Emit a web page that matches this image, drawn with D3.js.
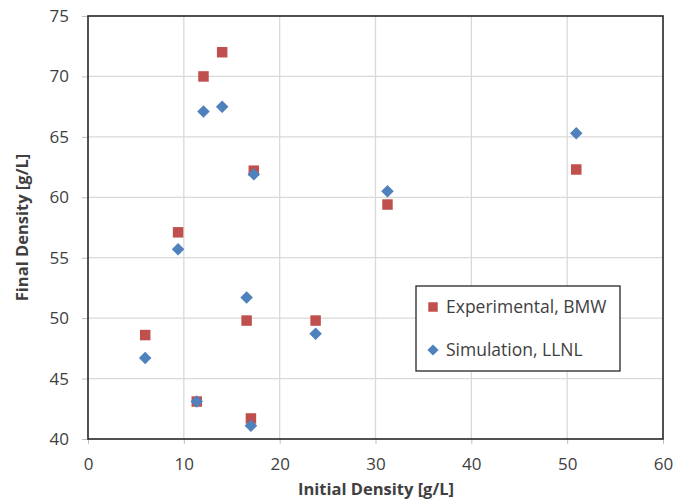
<!DOCTYPE html>
<html><head><meta charset="utf-8">
<script src="https://cdn.jsdelivr.net/npm/d3@7"></script>
<style>body{margin:0;background:#fff}svg{display:block}text{font-family:"Open Sans",sans-serif;fill:#404040}</style>
</head><body>
<svg id="c" width="674" height="502"></svg>
<script>
const expX = [14.0, 12.05, 17.3, 9.4, 16.55, 23.75, 5.97, 11.35, 17.0, 31.25, 50.95];
const expY = [72.0, 70.0, 62.2, 57.1, 49.8, 49.8, 48.6, 43.1, 41.7, 59.4, 62.3];
const simX = [12.05, 14.0, 17.3, 9.4, 16.55, 23.75, 5.97, 11.35, 17.0, 31.25, 50.95];
const simY = [67.1, 67.5, 61.9, 55.7, 51.7, 48.7, 46.7, 43.1, 41.1, 60.5, 65.3];
const xTicks = [0, 10, 20, 30, 40, 50, 60];
const yTicks = [40, 45, 50, 55, 60, 65, 70, 75];
const seriesNames = ["Experimental, BMW", "Simulation, LLNL"];
const colors = ["#C0504D", "#4F81BD"];

const svg = d3.select("#c");
const L = 88, R = 663, T = 16, B = 439;
const x = d3.scaleLinear().domain([0, 60]).range([L, R]);
const y = d3.scaleLinear().domain([40, 75]).range([B, T]);

// grid
svg.append("g").selectAll("line").data(xTicks.slice(1, -1)).join("line")
  .attr("x1", d => x(d)).attr("x2", d => x(d)).attr("y1", T).attr("y2", B)
  .attr("stroke", "#d9d9d9").attr("stroke-width", 1.3);
svg.append("g").selectAll("line").data(yTicks.slice(1, -1)).join("line")
  .attr("y1", d => y(d)).attr("y2", d => y(d)).attr("x1", L).attr("x2", R)
  .attr("stroke", "#d9d9d9").attr("stroke-width", 1.3);

// axes
const xa = svg.append("g").attr("transform", `translate(0,${B})`)
  .call(d3.axisBottom(x).tickValues(xTicks).tickSize(5).tickPadding(14));
const ya = svg.append("g").attr("transform", `translate(${L},0)`)
  .call(d3.axisLeft(y).tickValues(yTicks).tickSize(6).tickPadding(13));
[xa, ya].forEach(a => {
  a.select(".domain").remove();
  a.selectAll(".tick line").attr("stroke", "#bfbfbf");
  a.selectAll("text").attr("font-size", 17).attr("fill", "#404040").attr("font-family", "Open Sans");
});

// border
svg.append("rect").attr("x", L).attr("y", T).attr("width", R - L).attr("height", B - T)
  .attr("fill", "none").attr("stroke", "#262626").attr("stroke-width", 1.6);

// points
const expData = expX.map((v, i) => [v, expY[i]]);
const simData = simX.map((v, i) => [v, simY[i]]);
const sq = d3.symbol().type(d3.symbolSquare).size(110);
const dm = d3.symbol().type(d3.symbolDiamond2).size(100);
svg.append("g").selectAll("path").data(expData).join("path")
  .attr("d", sq).attr("transform", d => `translate(${x(d[0])},${y(d[1])})`)
  .attr("fill", colors[0]);
svg.append("g").selectAll("path").data(simData).join("path")
  .attr("d", dm).attr("transform", d => `translate(${x(d[0])},${y(d[1])})`)
  .attr("fill", colors[1]);

// axis titles
svg.append("text").attr("x", 376).attr("y", 495).attr("text-anchor", "middle")
  .attr("font-size", 16.5).attr("font-weight", "bold").text("Initial Density [g/L]");
svg.append("text").attr("transform", `translate(28,${(T + B) / 2}) rotate(-90)`).attr("text-anchor", "middle")
  .attr("font-size", 16.5).attr("font-weight", "bold").text("Final Density [g/L]");

// legend
const lg = svg.append("g");
lg.append("rect").attr("x", 416).attr("y", 286).attr("width", 204).attr("height", 85)
  .attr("fill", "#fff").attr("stroke", "#262626").attr("stroke-width", 1.3);
const legY = [307, 350];
lg.selectAll("path.m").data(seriesNames).join("path")
  .attr("d", (d, i) => i === 0 ? d3.symbol().type(d3.symbolSquare).size(90)() : d3.symbol().type(d3.symbolDiamond2).size(80)())
  .attr("transform", (d, i) => `translate(433,${legY[i]})`)
  .attr("fill", (d, i) => colors[i]);
lg.selectAll("text").data(seriesNames).join("text")
  .attr("x", 446).attr("y", (d, i) => legY[i]).attr("dy", "0.35em")
  .attr("font-size", 17.5).text(d => d);
</script>
</body></html>
